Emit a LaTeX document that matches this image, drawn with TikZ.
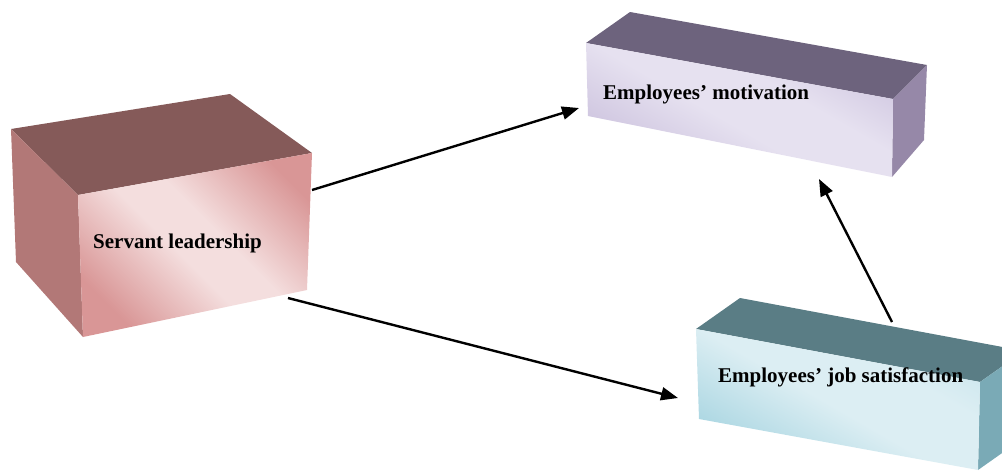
\documentclass[tikz,border=0pt]{standalone}
\usepackage{fontspec}
\setmainfont{Liberation Serif}
\usetikzlibrary{arrows.meta}
\definecolor{slTop}{RGB}{133,90,89}
\definecolor{slSide}{RGB}{178,120,119}
\definecolor{slDark}{RGB}{217,150,150}
\definecolor{slLight}{RGB}{244,222,222}
\definecolor{emTop}{RGB}{109,99,125}
\definecolor{emSide}{RGB}{150,136,168}
\definecolor{emDark}{RGB}{203,193,221}
\definecolor{emLight}{RGB}{230,225,240}
\definecolor{jsTop}{RGB}{90,125,133}
\definecolor{jsSide}{RGB}{122,170,182}
\definecolor{jsDark}{RGB}{168,213,225}
\definecolor{jsLight}{RGB}{220,238,243}
\pgfdeclarehorizontalshading{slshade}{100bp}{color(0bp)=(slDark); color(25bp)=(slDark); color(46bp)=(slLight); color(56bp)=(slLight); color(77bp)=(slDark); color(100bp)=(slDark)}
\pgfdeclarehorizontalshading{emshade}{100bp}{color(0bp)=(emDark); color(25bp)=(emDark); color(46bp)=(emLight); color(60bp)=(emLight); color(80bp)=(emDark); color(100bp)=(emDark)}
\pgfdeclarehorizontalshading{jsshade}{100bp}{color(0bp)=(jsDark); color(25bp)=(jsDark); color(48bp)=(jsLight); color(64bp)=(jsLight); color(84bp)=(jsDark!50!jsLight); color(100bp)=(jsDark!50!jsLight)}
\tikzset{
  label text/.style={font=\fontsize{21}{25}\selectfont\bfseries, inner sep=0pt, anchor=base west, text=black},
  link/.style={line width=2.4pt, -{Triangle[length=17pt,width=13pt]}},
}
\begin{document}
\begin{tikzpicture}[x=1pt,y=-1pt]
\useasboundingbox (0,0) rectangle (1002,472);
\clip (0,0) rectangle (1002,472);
% ---- Servant leadership box
\coordinate (a1) at (11,129);
\coordinate (a2) at (230,94);
\coordinate (a3) at (312,153);
\coordinate (a4) at (78,195);
\coordinate (a5) at (83,337);
\coordinate (a6) at (307,290);
\coordinate (a7) at (16,262);
\fill[slTop] (a1) -- (a2) -- (a3) -- (a4) -- cycle;
\fill[slSide] (a1) -- (a4) -- (a5) -- (a7) -- cycle;
\shade[shading=slshade, shading angle=45] (a4) -- (a3) -- (a6) -- (a5) -- cycle;
% ---- Employees' motivation box
\coordinate (b1) at (630,12);
\coordinate (b2) at (927,65);
\coordinate (b3) at (893,99);
\coordinate (b4) at (586,43);
\coordinate (b5) at (588,116);
\coordinate (b6) at (892,177);
\coordinate (b7) at (924,140);
\fill[emTop] (b1) -- (b2) -- (b3) -- (b4) -- cycle;
\fill[emSide] (b3) -- (b2) -- (b7) -- (b6) -- cycle;
\shade[shading=emshade, shading angle=60] (b4) -- (b3) -- (b6) -- (b5) -- cycle;
% ---- Employees' job satisfaction box
\coordinate (c1) at (740,298);
\coordinate (c2) at (1024,351);
\coordinate (c3) at (980,382);
\coordinate (c4) at (696,329);
\coordinate (c5) at (699,419);
\coordinate (c6) at (978,470);
\coordinate (c7) at (1022,439);
\fill[jsTop] (c1) -- (c2) -- (c3) -- (c4) -- cycle;
\fill[jsSide] (c3) -- (c2) -- (c7) -- (c6) -- cycle;
\shade[shading=jsshade, shading angle=60] (c4) -- (c3) -- (c6) -- (c5) -- cycle;
% ---- labels
\node[label text] (sl) at (93,248) {Servant leadership};
\node[label text] (em) at (603,99) {Employees’ motivation};
\node[label text] (js) at (718,382) {Employees’ job satisfaction};
% ---- connectors
\coordinate (p1s) at (312,190);
\coordinate (p1e) at (579,108);
\coordinate (p2s) at (288,298);
\coordinate (p2e) at (678,398);
\coordinate (p3s) at (892,322);
\coordinate (p3e) at (819,179);
\draw[link] (p1s) -- (p1e);
\draw[link] (p2s) -- (p2e);
\draw[link] (p3s) -- (p3e);
\end{tikzpicture}
\end{document}
